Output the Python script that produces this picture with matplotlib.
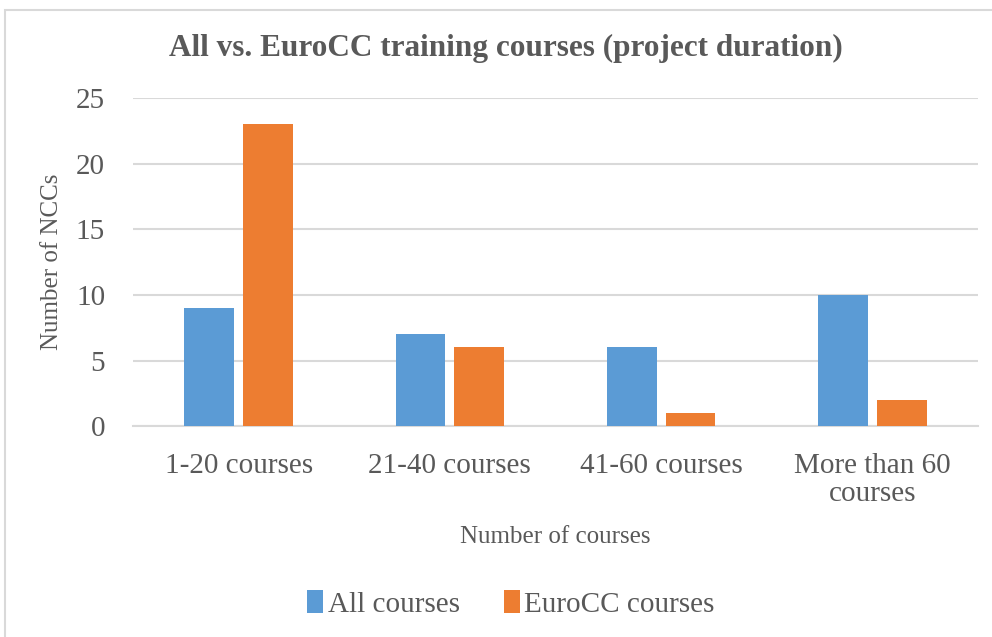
import numpy as np
import matplotlib.pyplot as plt
from matplotlib.patches import Rectangle

plt.rcParams['font.family'] = ['Liberation Serif', 'DejaVu Serif']

categories = ['1-20 courses', '21-40 courses', '41-60 courses', 'More than 60\ncourses']
all_courses = [9, 7, 6, 10]
eurocc_courses = [23, 6, 1, 2]
series_names = ['All courses', 'EuroCC courses']
yticks = [0, 5, 10, 15, 20, 25]

blue = '#5B9BD5'
orange = '#ED7D31'
text_col = '#595959'
grid_col = '#D9D9D9'

fig = plt.figure(figsize=(9.92, 6.37), dpi=100)
ax = fig.add_axes([0.134, 0.331, 0.852, 0.515])

x = np.arange(len(categories))
w = 0.236
off = 0.139
ax.bar(x - off, all_courses, w, color=blue, label=series_names[0], zorder=3)
ax.bar(x + off, eurocc_courses, w, color=orange, label=series_names[1], zorder=3)

ax.set_xlim(-0.5, len(categories) - 0.5)
ax.set_ylim(0, 25)
ax.set_yticks(yticks)
ax.set_yticklabels([str(v) for v in yticks], fontsize=21, color=text_col)
ax.set_xticks(x)
ax.set_xticklabels(categories, fontsize=21, color=text_col, linespacing=1.1)
ax.tick_params(length=0)
ax.tick_params(axis='x', pad=19)
ax.tick_params(axis='y', pad=20)
ax.grid(axis='y', color=grid_col, linewidth=1.5, zorder=0)
for s in ['top', 'right', 'left']:
    ax.spines[s].set_visible(False)
ax.spines['bottom'].set_color(grid_col)
ax.spines['bottom'].set_linewidth(1.5)

ax.set_ylabel('Number of NCCs', fontsize=18, color=text_col, labelpad=9)
ax.set_xlabel('Number of courses', fontsize=18, color=text_col, labelpad=14)

fig.text(0.51, 0.924, 'All vs. EuroCC training courses (project duration)',
         ha='center', va='center', fontsize=22.5, fontweight='bold', color=text_col)

leg = fig.legend(loc='center', bbox_to_anchor=(0.515, 0.052), ncol=2, frameon=False,
                 fontsize=21, handlelength=0.55, handleheight=0.8, handletextpad=0.15,
                 columnspacing=1.5, labelcolor=text_col)

# outer chart frame
fig.patches.append(Rectangle((0.005, -0.02), 1.1, 1.004, transform=fig.transFigure,
                             fill=False, edgecolor='#D9D9D9', linewidth=1.5))

fig.savefig('out.png', dpi=100)
